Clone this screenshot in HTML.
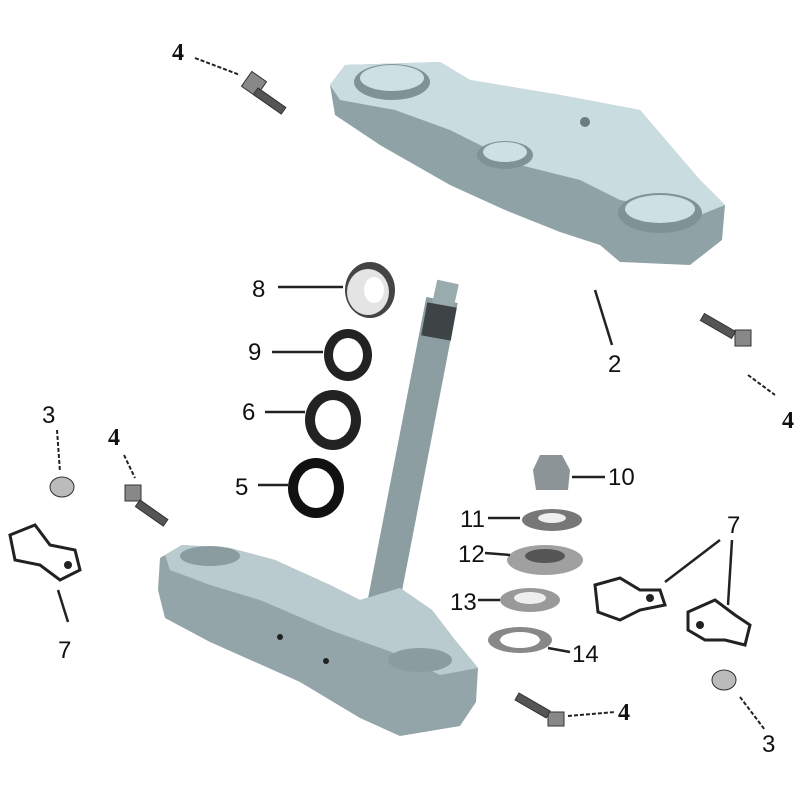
<!DOCTYPE html>
<html><head><meta charset="utf-8"><style>
html,body{margin:0;padding:0;background:#fff;}
svg{display:block}
text{font-family:"Liberation Sans",sans-serif;font-size:24px;fill:#111}
text.s{font-family:"Liberation Serif",serif;font-weight:bold}
</style></head><body>
<svg width="800" height="800" viewBox="0 0 800 800" xmlns="http://www.w3.org/2000/svg">
<rect width="800" height="800" fill="#fff"/>
<!-- Upper triple clamp -->
<path d="M330 85 L345 65 L440 62 L470 80 L560 95 L640 110 L700 180 L725 205 L722 240 L690 265 L620 262 L600 245 L560 232 L505 210 L450 185 L380 145 L335 115 Z" fill="#8fa2a6"/>
<path d="M330 85 L345 65 L440 62 L470 80 L560 95 L640 110 L700 180 L725 205 L700 215 L620 200 L580 180 L520 165 L450 130 L395 110 L340 100 Z" fill="#c9dde0"/>
<ellipse cx="392" cy="82" rx="38" ry="18" fill="#7f9296"/>
<ellipse cx="392" cy="78" rx="32" ry="13" fill="#cde0e3"/>
<ellipse cx="505" cy="155" rx="28" ry="14" fill="#7f9296"/>
<ellipse cx="505" cy="152" rx="22" ry="10" fill="#cde0e3"/>
<ellipse cx="660" cy="213" rx="42" ry="20" fill="#7f9296"/>
<ellipse cx="660" cy="209" rx="35" ry="14" fill="#cde0e3"/>
<circle cx="585" cy="122" r="5" fill="#6b7c80"/>
<!-- Stem -->
<line x1="442" y1="300" x2="383" y2="605" stroke="#8d9ea2" stroke-width="32"/>
<line x1="448" y1="282" x2="443" y2="305" stroke="#9aabae" stroke-width="22"/>
<line x1="442" y1="305" x2="436" y2="338" stroke="#3e4446" stroke-width="30"/>
<!-- Lower triple clamp -->
<path d="M160 558 L182 545 L230 548 L275 560 L330 585 L360 600 L400 588 L432 610 L455 640 L478 668 L476 702 L460 726 L400 736 L360 718 L300 682 L210 642 L165 618 L158 590 Z" fill="#93a5a9"/>
<path d="M165 555 L182 545 L230 548 L275 560 L330 585 L360 600 L400 588 L432 610 L455 640 L478 668 L440 675 L400 655 L330 630 L260 600 L210 585 L170 570 Z" fill="#b9cbce"/>
<ellipse cx="210" cy="556" rx="30" ry="10" fill="#8a9ca0"/>
<ellipse cx="420" cy="660" rx="32" ry="12" fill="#8a9ca0"/>
<circle cx="280" cy="637" r="3" fill="#222"/><circle cx="326" cy="661" r="3" fill="#222"/>
<!-- Washers 8,9,6,5 -->
<ellipse cx="370" cy="290" rx="25" ry="28" fill="#444"/><ellipse cx="368" cy="292" rx="21" ry="23" fill="#e4e4e4"/><ellipse cx="374" cy="290" rx="10" ry="13" fill="#fff"/>
<ellipse cx="348" cy="355" rx="24" ry="26" fill="#222"/><ellipse cx="348" cy="355" rx="15" ry="17" fill="#fff"/>
<ellipse cx="333" cy="420" rx="28" ry="30" fill="#222"/><ellipse cx="333" cy="420" rx="18" ry="20" fill="#fff"/>
<ellipse cx="316" cy="488" rx="28" ry="30" fill="#111"/><ellipse cx="316" cy="488" rx="18" ry="20" fill="#fff"/>
<!-- Nut & washers 10-14 -->
<path d="M533 470 L540 455 L562 455 L570 470 L568 490 L536 490 Z" fill="#8c9497"/>
<ellipse cx="552" cy="520" rx="30" ry="11" fill="#777"/><ellipse cx="552" cy="518" rx="14" ry="5" fill="#eee"/>
<ellipse cx="545" cy="560" rx="38" ry="15" fill="#a0a0a0"/><ellipse cx="545" cy="556" rx="20" ry="7" fill="#555"/>
<ellipse cx="530" cy="600" rx="30" ry="12" fill="#999"/><ellipse cx="530" cy="598" rx="16" ry="6" fill="#eee"/>
<ellipse cx="520" cy="640" rx="32" ry="13" fill="#888"/><ellipse cx="520" cy="640" rx="20" ry="8" fill="#fff"/>
<!-- Bolts 4 -->
<g fill="#888" stroke="#333" stroke-width="1">
<rect x="245" y="75" width="18" height="18" transform="rotate(35 254 84)"/>
<rect x="258" y="88" width="34" height="8" fill="#555" transform="rotate(35 258 88)"/>
<rect x="735" y="330" width="16" height="16"/>
<rect x="700" y="322" width="36" height="8" fill="#555" transform="rotate(30 718 326)"/>
<rect x="125" y="485" width="16" height="16"/>
<rect x="140" y="500" width="34" height="8" fill="#555" transform="rotate(35 140 500)"/>
<rect x="548" y="712" width="16" height="14"/>
<rect x="515" y="700" width="36" height="8" fill="#555" transform="rotate(30 530 704)"/>
<ellipse cx="62" cy="487" rx="12" ry="10" fill="#bbb"/>
<ellipse cx="724" cy="680" rx="12" ry="10" fill="#bbb"/>
</g>
<!-- Clamps 7 -->
<g fill="#fff" stroke="#222" stroke-width="3">
<path d="M10 535 L35 525 L50 545 L75 550 L80 570 L60 580 L40 565 L15 560 Z"/>
<path d="M595 585 L620 578 L640 590 L660 590 L665 605 L640 610 L620 620 L598 612 Z"/>
<path d="M688 612 L715 600 L735 615 L750 625 L745 645 L725 640 L705 640 L688 630 Z"/>
</g>
<circle cx="68" cy="565" r="4" fill="#222"/><circle cx="650" cy="598" r="4" fill="#222"/><circle cx="700" cy="625" r="4" fill="#222"/>
<!-- Leader lines solid (sans labels) -->
<g stroke="#222" stroke-width="2.5" fill="none">
<line x1="278" y1="287" x2="343" y2="287"/>
<line x1="272" y1="352" x2="323" y2="352"/>
<line x1="265" y1="412" x2="305" y2="412"/>
<line x1="258" y1="485" x2="288" y2="485"/>
<line x1="572" y1="477" x2="605" y2="477"/>
<line x1="488" y1="518" x2="520" y2="518"/>
<line x1="485" y1="553" x2="510" y2="555"/>
<line x1="478" y1="600" x2="500" y2="600"/>
<line x1="548" y1="648" x2="570" y2="652"/>
<line x1="595" y1="290" x2="612" y2="345"/>
<line x1="720" y1="540" x2="665" y2="582"/>
<line x1="732" y1="540" x2="728" y2="605"/>
<line x1="58" y1="590" x2="68" y2="622"/>
</g>
<g stroke="#222" stroke-width="2" fill="none" stroke-dasharray="4 2">
<line x1="195" y1="58" x2="240" y2="75"/>
<line x1="748" y1="375" x2="775" y2="395"/>
<line x1="124" y1="455" x2="135" y2="478"/>
<line x1="57" y1="430" x2="60" y2="472"/>
<line x1="568" y1="716" x2="615" y2="712"/>
<line x1="740" y1="697" x2="765" y2="730"/>
</g>
<!-- Labels -->
<text class="s" x="172" y="60">4</text>
<text x="608" y="372">2</text>
<text class="s" x="782" y="428">4</text>
<text x="42" y="423">3</text>
<text class="s" x="108" y="445">4</text>
<text x="58" y="658">7</text>
<text x="252" y="297">8</text>
<text x="248" y="360">9</text>
<text x="242" y="420">6</text>
<text x="235" y="495">5</text>
<text x="608" y="485">10</text>
<text x="460" y="527">11</text>
<text x="458" y="562">12</text>
<text x="450" y="610">13</text>
<text x="572" y="662">14</text>
<text x="727" y="533">7</text>
<text class="s" x="618" y="720">4</text>
<text x="762" y="752">3</text>
</svg>
</body></html>
